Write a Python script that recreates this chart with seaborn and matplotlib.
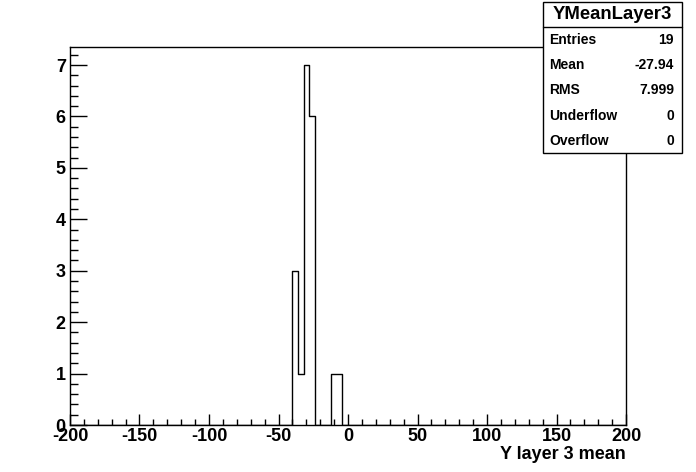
import matplotlib
matplotlib.use("Agg")
import matplotlib.pyplot as plt
import pandas as pd
import seaborn as sns
from matplotlib.patches import Rectangle
from matplotlib.ticker import MultipleLocator

# histogram contents (bin width 4, range -200..200)
x_range = (-200, 200)
bin_width = 4
bin_centers = [-38, -34, -30, -26, -10, -6]
bin_counts = [3, 1, 7, 6, 1, 1]

stats_title = "YMeanLayer3"
stats_names = ["Entries", "Mean", "RMS", "Underflow", "Overflow"]
stats_values = ["19", "-27.94", "7.999", "0", "0"]

x_label = "Y layer 3 mean"

sns.set_style("white")
plt.rcParams["font.family"] = ["Liberation Sans", "DejaVu Sans"]
plt.rcParams["font.weight"] = "bold"
plt.rcParams["axes.unicode_minus"] = False
for key in ["text.color", "axes.labelcolor", "xtick.color", "ytick.color"]:
    plt.rcParams[key] = "black"

W, H = 696, 472
fig = plt.figure(figsize=(W / 100, H / 100), dpi=100)
ax = fig.add_axes([70 / W, (H - 425) / H, 556 / W, 378 / H])

df = pd.DataFrame({"y": bin_centers, "n": bin_counts})
sns.histplot(data=df, x="y", weights="n", binwidth=bin_width, binrange=x_range,
             element="step", fill=False, color="black", linewidth=1.0, ax=ax)

ax.set_xlim(*x_range)
ax.set_ylim(0, 7.35)
ax.xaxis.set_major_locator(MultipleLocator(50))
ax.xaxis.set_minor_locator(MultipleLocator(10))
ax.yaxis.set_major_locator(MultipleLocator(1))
ax.yaxis.set_minor_locator(MultipleLocator(0.2))
ax.tick_params(axis="x", which="major", direction="in", length=8, width=1,
               labelsize=13, pad=2, bottom=True, top=False, color="black")
ax.tick_params(axis="x", which="minor", direction="in", length=4, width=1,
               bottom=True, top=False, color="black")
ax.tick_params(axis="y", which="major", direction="in", length=12.5, width=1,
               labelsize=13, pad=3, left=True, right=False, color="black")
ax.tick_params(axis="y", which="minor", direction="in", length=6, width=1,
               left=True, right=False, color="black")
for lab in ax.get_xticklabels() + ax.get_yticklabels():
    lab.set_fontweight("bold")
ax.set_ylabel("")
ax.set_xlabel(x_label, fontsize=13, fontweight="bold", loc="right", labelpad=1)
for sp in ax.spines.values():
    sp.set_color("black")
    sp.set_linewidth(1.0)

# stats box (pixel positions, top-left origin)
def fx(px):
    return px / W

def fy(py):
    return 1 - py / H

box_l, box_r, box_t, box_b, sep = 543, 682, 2, 153, 27
fig.patches.append(Rectangle((fx(box_l), fy(box_b)), fx(box_r) - fx(box_l),
                             fy(box_t) - fy(box_b), transform=fig.transFigure,
                             facecolor="white", edgecolor="black", linewidth=1.0))
fig.add_artist(plt.Line2D([fx(box_l), fx(box_r)], [fy(sep), fy(sep)],
                          transform=fig.transFigure, color="black", linewidth=1.0))
fig.text(fx((box_l + box_r) / 2), fy(14.5), stats_title, ha="center", va="center",
         fontsize=13.3, fontweight="bold")
row_y = [40, 65, 90, 116, 141]
for name, val, yy in zip(stats_names, stats_values, row_y):
    fig.text(fx(549), fy(yy), name, ha="left", va="center", fontsize=10, fontweight="bold")
    fig.text(fx(674), fy(yy), val, ha="right", va="center", fontsize=10, fontweight="bold")

fig.savefig("out.png", dpi=100)
